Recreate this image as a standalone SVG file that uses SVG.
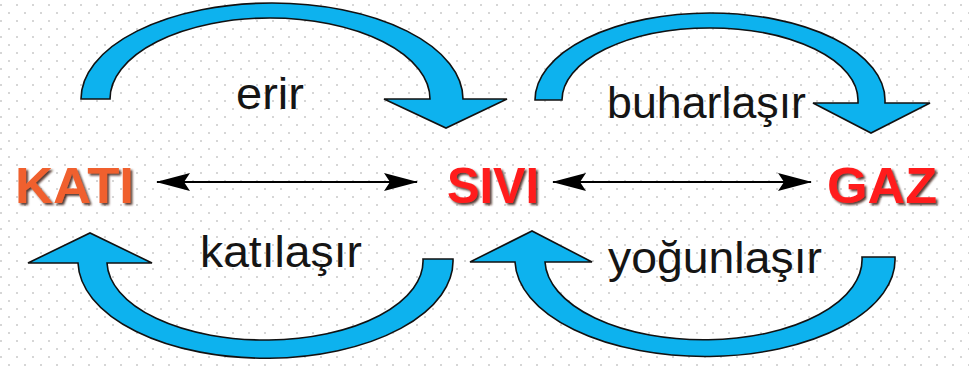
<svg xmlns="http://www.w3.org/2000/svg" width="969" height="369" viewBox="0 0 969 369">
<defs>
<pattern id="dots" width="16" height="16" patternUnits="userSpaceOnUse">
<rect x="0" y="4" width="2" height="2" fill="#d6d6d6"/>
<rect x="8" y="12" width="2" height="2" fill="#d6d6d6"/>
</pattern>
<filter id="shadow" x="-10%" y="-20%" width="130%" height="150%">
<feDropShadow dx="2" dy="2" stdDeviation="0.8" flood-color="#3a1208" flood-opacity="0.85"/>
</filter>
<marker id="ah" viewBox="0 0 34 18" refX="33" refY="9" markerWidth="34" markerHeight="18" markerUnits="userSpaceOnUse" orient="auto-start-reverse">
<path d="M0,0 L34,9 L0,18 L6,9 Z" fill="#000"/>
</marker>
</defs>
<style>
.bend{fill:#0db2ee;stroke:#111;stroke-width:1.6;stroke-linejoin:miter}
.lbl{font-family:"Liberation Sans",Arial,sans-serif;font-size:45px;fill:#151515}
.state{font-family:"Liberation Sans",Arial,sans-serif;font-weight:bold;font-size:50px;filter:url(#shadow)}
.dbl{stroke:#000;stroke-width:2;fill:none;marker-start:url(#ah);marker-end:url(#ah)}
</style>
<rect width="969" height="369" fill="#fff"/>
<rect width="969" height="369" fill="url(#dots)"/>

<g id="connectors">
<path id="c-erir" class="bend" d="M81,99 A191,96 0 0 1 463,99 L507,99 L446,128 L384,99 L430,99 A160,81 0 0 0 110,99 Z"/>
<path id="c-buhar" class="bend" d="M535,100 A175,87 0 0 1 885,100 L885,103 L930,103 L871,133 L813,103 L858,103 L858,100 A148,72 0 0 0 562,100 Z"/>
<path id="c-katilas" class="bend" d="M453,259 A187,97 0 0 1 78,263 L28,263 L90,233 L152,263 L107,263 A158,79 0 0 0 423,259 Z"/>
<path id="c-yogun" class="bend" d="M895,257 A190,97 0 0 1 515,262 L470,262 L532,231 L592,262 L545,262 A158,80 0 0 0 862,257 Z"/>
<line class="dbl" x1="157" y1="182" x2="417" y2="182"/>
<line class="dbl" x1="553" y1="182" x2="811" y2="182"/>
<text class="lbl" x="236" y="109" textLength="68" lengthAdjust="spacingAndGlyphs">erir</text>
<text class="lbl" x="607" y="118" textLength="199" lengthAdjust="spacingAndGlyphs">buharlaşır</text>
<text class="lbl" x="200" y="267" textLength="162" lengthAdjust="spacingAndGlyphs">katılaşır</text>
<text class="lbl" x="608" y="273" textLength="214" lengthAdjust="spacingAndGlyphs">yoğunlaşır</text>
</g>

<g id="kati">
<text class="state" x="15" y="203" fill="#f0602e" textLength="119" lengthAdjust="spacingAndGlyphs">KATI</text>
</g>
<g id="sivi">
<text class="state" x="447" y="203" fill="#ff1e1e" textLength="92" lengthAdjust="spacingAndGlyphs">SIVI</text>
</g>
<g id="gaz">
<text class="state" x="827" y="203" fill="#ff1e1e" textLength="110" lengthAdjust="spacingAndGlyphs">GAZ</text>
</g>
</svg>
